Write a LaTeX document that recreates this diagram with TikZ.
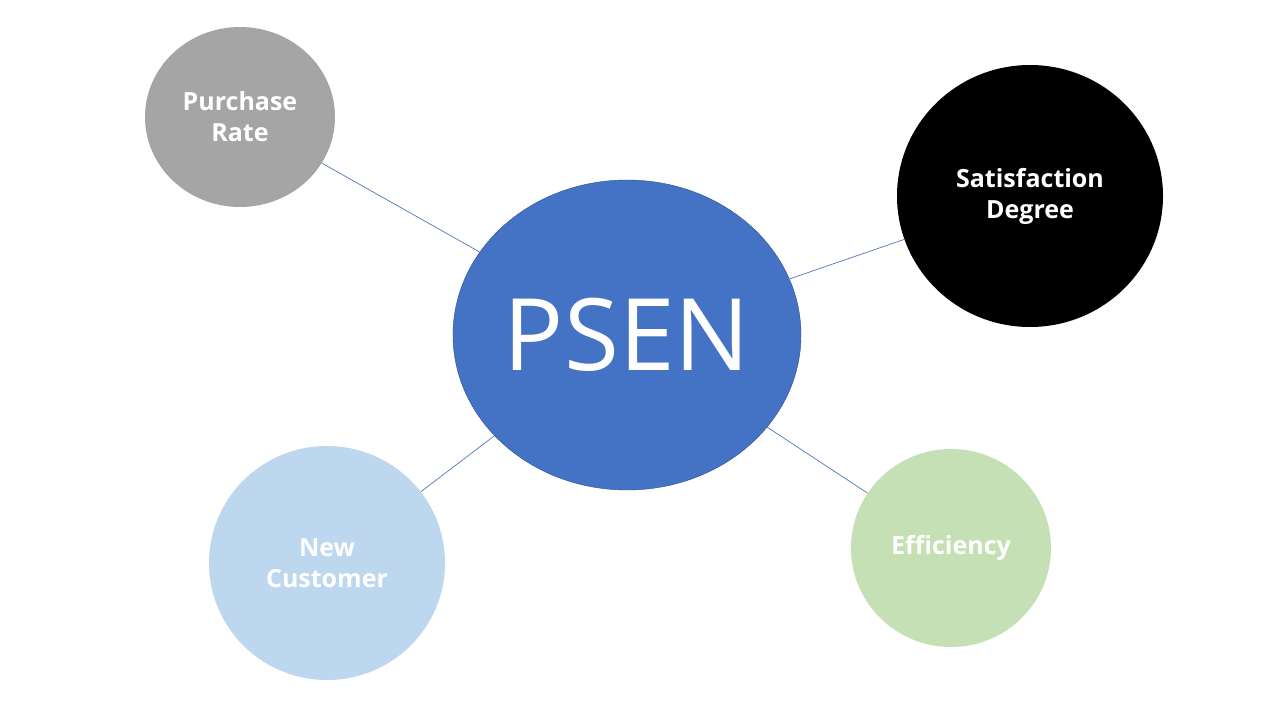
\documentclass[tikz,border=0pt]{standalone}
\usepackage{fontspec}
\setmainfont{Open Sans}
\usetikzlibrary{shapes.geometric}

\definecolor{psenblue}{RGB}{68,114,196}
\definecolor{lineblue}{RGB}{80,120,180}
\definecolor{lightgrey}{RGB}{165,165,165}
\definecolor{lightblue}{RGB}{189,215,238}
\definecolor{lightgreen}{RGB}{197,224,180}

\begin{document}
\begin{tikzpicture}
    [x=1pt,y=-1pt,
      bubble/.style={ellipse,inner sep=0pt,text=white,align=center,
        font=\fontsize{25}{31}\selectfont\bfseries},
      link/.style={draw=lineblue,line width=0.7pt}
    ]
    \useasboundingbox[fill=white] (0,0) rectangle (1280,720);

    \node [bubble,fill=psenblue,draw=psenblue!70!black,minimum width=330,minimum height=310,
           font=\fontsize{100}{110}\selectfont] (psen) at (627,335) {PSEN};
    \node [bubble,fill=lightgrey,minimum width=190,minimum height=180] (purchase) at (240,117) {Purchase\\Rate};
    \node [bubble,fill=black,minimum width=266,minimum height=262] (satisfaction) at (1030,196) {Satisfaction\\Degree};
    \node [bubble,fill=lightblue,minimum width=236,minimum height=234] (newcust) at (327,563) {New\\Customer};
    \node [bubble,fill=lightgreen,minimum width=200,minimum height=198] (efficiency) at (951,548) {Efficiency};

    % connectors
    \foreach \n in {purchase,satisfaction,newcust,efficiency}
      \draw [link] (psen) -- (\n);
\end{tikzpicture}
\end{document}
